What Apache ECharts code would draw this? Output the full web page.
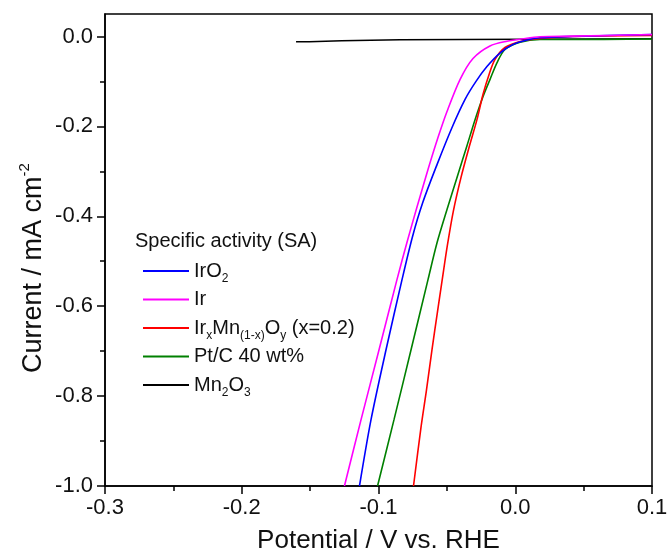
<!DOCTYPE html>
<html><head><meta charset="utf-8">
<script src="https://cdn.jsdelivr.net/npm/echarts@6/dist/echarts.min.js"></script>
<style>html,body{margin:0;padding:0;background:#fff}#c{width:668px;height:554px}</style>
</head><body><div id="c"></div>
<script>
// ---- data ----
const yMajorTicks = [-1.0, -0.8, -0.6, -0.4, -0.2, 0.0];
const yMinorTicks = [-0.9, -0.7, -0.5, -0.3, -0.1];

const irO2Potential = [-0.1139,-0.1055,-0.0945,-0.0828,-0.0752,-0.0677,-0.0572,-0.0463,-0.0367,-0.0287,-0.0207,-0.0112,-0.0017,0.0086,0.0181,0.0422,0.1];
const irO2Current   = [-1.0,-0.853,-0.697,-0.541,-0.446,-0.370,-0.285,-0.203,-0.140,-0.100,-0.067,-0.037,-0.018,-0.008,-0.003,0.0,0.0045];

const irPotential = [-0.1249,-0.1128,-0.0996,-0.0865,-0.0790,-0.0718,-0.0638,-0.0565,-0.0499,-0.0404,-0.0309,-0.0185,-0.0060,0.0057,0.0181,0.0422,0.1];
const irCurrent   = [-1.0,-0.853,-0.697,-0.541,-0.456,-0.379,-0.296,-0.225,-0.167,-0.096,-0.049,-0.021,-0.0105,-0.005,-0.0007,0.0007,0.0045];

const irMnPotential = [-0.0744,-0.0689,-0.0649,-0.0609,-0.0569,-0.0534,-0.0497,-0.0453,-0.0397,-0.0338,-0.0280,-0.0236,-0.0192,-0.0148,-0.0075,0.0035,0.0181,0.0422,0.1];
const irMnCurrent   = [-1.0,-0.869,-0.786,-0.697,-0.613,-0.541,-0.466,-0.389,-0.314,-0.247,-0.185,-0.129,-0.085,-0.051,-0.0245,-0.011,-0.0045,0.0,0.0022];

const ptcPotential = [-0.1007,-0.0887,-0.0762,-0.0638,-0.0572,-0.0499,-0.0419,-0.0353,-0.0294,-0.0236,-0.0185,-0.0133,-0.0075,0.0035,0.0181,0.0379,0.1];
const ptcCurrent   = [-1.0,-0.853,-0.697,-0.541,-0.459,-0.385,-0.307,-0.243,-0.185,-0.134,-0.096,-0.058,-0.029,-0.0127,-0.0067,-0.0067,-0.0056];

const mn2o3Potential = [-0.1603,-0.1506,-0.1506,-0.1269,-0.1269,-0.0843,-0.0843,0.1];
const mn2o3Current   = [-0.0118,-0.0118,-0.0096,-0.0096,-0.0073,-0.0073,-0.0049,-0.0049];

const seriesNames = ['IrO2', 'Ir', 'IrxMn(1-x)Oy (x=0.2)', 'Pt/C 40 wt%', 'Mn2O3'];
const legendRich = {
  'IrO2': '{m|IrO}{s|2}',
  'Ir': '{m|Ir}',
  'IrxMn(1-x)Oy (x=0.2)': '{m|Ir}{s|x}{m|Mn}{s|(1-x)}{m|O}{s|y}{m| (x=0.2)}',
  'Pt/C 40 wt%': '{m|Pt/C 40 wt%}',
  'Mn2O3': '{m|Mn}{s|2}{m|O}{s|3}'
};
const colors = {
  'IrO2': '#0000ff', 'Ir': '#ff00ff', 'IrxMn(1-x)Oy (x=0.2)': '#ff0000',
  'Pt/C 40 wt%': '#008000', 'Mn2O3': '#000000'
};

function zip(xs, ys) { return xs.map((x, i) => [x, ys[i]]); }
const FONT = 'Liberation Sans, Arial, sans-serif';

const chart = echarts.init(document.getElementById('c'));
function mk(name, xs, ys, smooth) {
  return {
    name, type: 'line', data: zip(xs, ys), showSymbol: false, symbol: 'none',
    smooth: smooth ? 0.3 : false,
    lineStyle: { color: colors[name], width: 1.6 }, itemStyle: { color: colors[name] },
    xAxisIndex: 0, yAxisIndex: 0, z: 3
  };
}

chart.setOption({
  animation: false,
  backgroundColor: '#fff',
  textStyle: { fontFamily: FONT },
  grid: { left: 105, right: 16, top: 14, bottom: 68, outerBoundsMode: 'none', containLabel: false,
          show: true, borderColor: '#000', borderWidth: 1.5, backgroundColor: 'transparent' },
  title: {
    text: 'Specific activity (SA)', left: 135, top: 231, padding: 0,
    textStyle: { fontFamily: FONT, fontSize: 20, fontWeight: 'normal', color: '#111' }
  },
  legend: {
    data: seriesNames, orient: 'vertical', left: 143, top: 257, padding: 0,
    icon: 'rect', itemWidth: 46, itemHeight: 2, itemGap: 0.5, selectedMode: false,
    formatter: n => legendRich[n],
    textStyle: {
      fontFamily: FONT, fontSize: 20, color: '#111', lineHeight: 28,
      rich: {
        m: { fontFamily: FONT, fontSize: 20, color: '#111', lineHeight: 28 },
        s: { fontFamily: FONT, fontSize: 12, color: '#111', lineHeight: 6, verticalAlign: 'bottom' }
      }
    }
  },
  xAxis: [{
    type: 'value', min: -0.3, max: 0.1, interval: 0.1,
    name: 'Potential / V vs. RHE', nameLocation: 'middle', nameGap: 42,
    nameTextStyle: { fontFamily: FONT, fontSize: 26, color: '#111' },
    axisLine: { show: true, onZero: false, lineStyle: { color: '#000', width: 1.5 } },
    axisTick: { show: true, inside: false, length: 8, lineStyle: { color: '#000', width: 1.5 } },
    minorTick: { show: true, splitNumber: 2, length: 5, lineStyle: { color: '#000', width: 1.5 } },
    axisLabel: { fontFamily: FONT, fontSize: 22, color: '#111', margin: 11, formatter: v => v.toFixed(1) },
    splitLine: { show: false }, minorSplitLine: { show: false }
  }],
  yAxis: [{
    type: 'value', min: -1.0, max: 0.05, position: 'left',
    name: '{m|Current / mA cm}{p|-2}', nameLocation: 'middle', nameGap: 54, nameRotate: 90,
    nameMoveOverlap: false,
    nameTextStyle: {
      fontFamily: FONT, fontSize: 27, color: '#111', padding: [0, 36, 0, 0],
      rich: {
        m: { fontFamily: FONT, fontSize: 27, color: '#111', lineHeight: 34 },
        p: { fontFamily: FONT, fontSize: 15, color: '#111', lineHeight: 8, verticalAlign: 'top' }
      }
    },
    axisLine: { show: true, onZero: false, lineStyle: { color: '#000', width: 1.5 } },
    axisTick: { show: true, inside: false, length: 8, customValues: yMajorTicks, lineStyle: { color: '#000', width: 1.5 } },
    axisLabel: { fontFamily: FONT, fontSize: 22, color: '#111', margin: 12, customValues: yMajorTicks, formatter: v => v.toFixed(1) },
    splitLine: { show: false }
  }, {
    type: 'value', min: -1.0, max: 0.05, position: 'left',
    axisLine: { show: false, onZero: false },
    axisTick: { show: true, inside: false, length: 5, customValues: yMinorTicks, lineStyle: { color: '#000', width: 1.5 } },
    axisLabel: { show: false },
    splitLine: { show: false }
  }],
  series: [
    mk('Mn2O3', mn2o3Potential, mn2o3Current, false),
    mk('Pt/C 40 wt%', ptcPotential, ptcCurrent, true),
    mk('IrxMn(1-x)Oy (x=0.2)', irMnPotential, irMnCurrent, true),
    mk('IrO2', irO2Potential, irO2Current, true),
    mk('Ir', irPotential, irCurrent, true)
  ]
});
</script>
</body></html>
